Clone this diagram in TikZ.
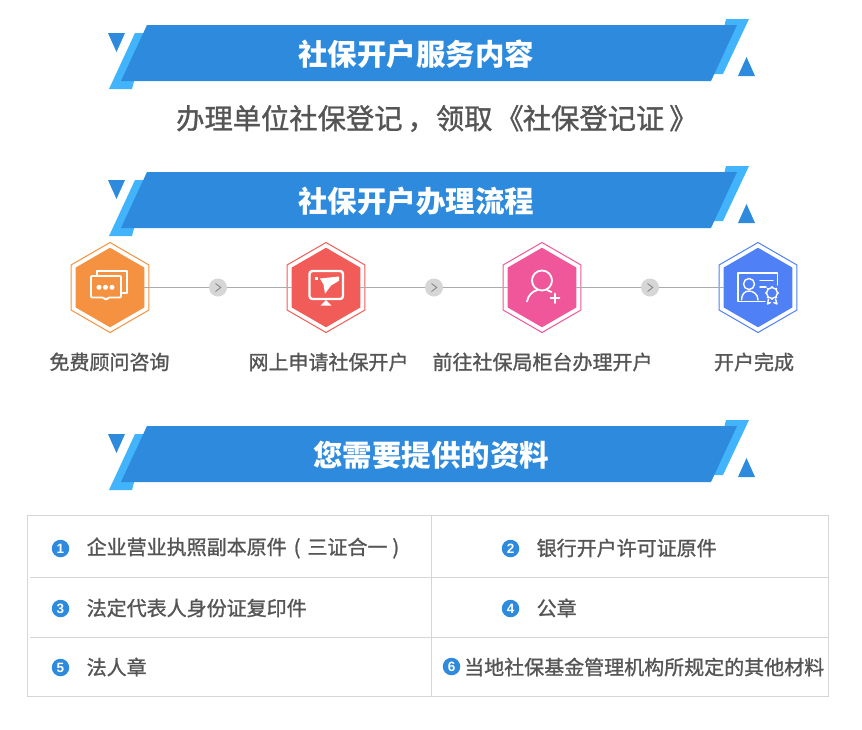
\documentclass[tikz,border=0pt]{standalone}
\usepackage{fontspec}
\setmainfont{Noto Sans CJK SC}
\newfontfamily\cjkmed[FakeBold=1.2]{Noto Sans CJK SC}
\newfontfamily\numfont{Liberation Sans}
\usetikzlibrary{shapes.geometric}
\definecolor{bandark}{HTML}{2D8ADC}
\definecolor{banlight}{HTML}{42B4FB}
\definecolor{txt}{HTML}{555555}
\definecolor{rule}{HTML}{D6D6D6}
\definecolor{hexo}{HTML}{F59241}
\definecolor{hexr}{HTML}{F25C58}
\definecolor{hexp}{HTML}{F0569A}
\definecolor{hexb}{HTML}{5080F5}
\tikzset{
  bantitle/.style={text=white,font=\bfseries\fontsize{29.5}{30}\selectfont,inner sep=0pt},
  subtitle/.style={text=txt,font=\cjkmed\fontsize{28.3}{30}\selectfont,inner sep=0pt,anchor=west},
  steplabel/.style={text=txt,font=\cjkmed\fontsize{20}{21}\selectfont,inner sep=0pt},
  celltext/.style={text=txt,font=\cjkmed\fontsize{20}{21}\selectfont,inner sep=0pt,anchor=west},
  bullet/.style={circle,fill=bandark,text=white,minimum size=17.5pt,inner sep=0pt,font=\numfont\bfseries\fontsize{13.5}{13.5}\selectfont},
  hexouter/.style={regular polygon,regular polygon sides=6,shape border rotate=30,minimum size=90pt,inner sep=0pt,outer sep=0pt,draw=#1,fill=white,line width=1pt},
  hexinner/.style={regular polygon,regular polygon sides=6,shape border rotate=30,minimum size=79.5pt,inner sep=0pt,outer sep=0pt,fill=#1},
  nextdot/.style={circle,fill=rule,minimum size=18pt,inner sep=0pt,outer sep=0pt},
  flow/.style={draw=black!33,line width=1pt},
  chev/.style={draw=black!50,line width=0.8pt},
  icon/.style={draw=white,line width=1.8pt,line join=round,line cap=round},
  iconthin/.style={draw=white,line width=1.4pt,line join=round,line cap=round},
  gridline/.style={draw=rule,line width=1pt}
}
\newcommand{\banner}[1]{%
  \begin{scope}[shift={(0,#1)}]
    \fill[banlight] (135,8)--(147,8)--(132,64)--(109,64)--cycle;
    \fill[banlight] (726,-6)--(749,-6)--(723,49)--(713,49)--cycle;
    \fill[bandark] (108,8)--(125,8)--(116.5,27)--cycle;
    \fill[bandark] (738,51)--(755,51)--(746.5,32)--cycle;
    \fill[bandark] (147,0)--(737,0)--(711,56)--(121,56)--cycle;
  \end{scope}}
\begin{document}
\begin{tikzpicture}[x=1pt,y=-1pt]
\useasboundingbox (0,0) rectangle (862,729);
\fill[white] (0,0) rectangle (862,729);

\banner{25}
\banner{172}
\banner{426}
\node[bantitle] (t1) at (416,54) {社保开户服务内容};
\node[bantitle] (t2) at (416,201) {社保开户办理流程};
\node[bantitle] (t3) at (431,455) {您需要提供的资料};
\node[subtitle] (sub) at (176,118.5) {办理单位社保登记\hspace{5pt}，领取\hspace{3pt}《\hspace{-1pt}社保登记证\hspace{5pt}》};

% hexagons
\node[hexouter=hexo] (o1) at (110,287.5) {};
\node[hexouter=hexr] (o2) at (326,287.5) {};
\node[hexouter=hexp] (o3) at (542,287.5) {};
\node[hexouter=hexb] (o4) at (758,287.5) {};
\node[hexinner=hexo] (h1) at (110,287.5) {};
\node[hexinner=hexr] (h2) at (326,287.5) {};
\node[hexinner=hexp] (h3) at (542,287.5) {};
\node[hexinner=hexb] (h4) at (758,287.5) {};

\node[nextdot] (d1) at (218,287.5) {};
\node[nextdot] (d2) at (434,287.5) {};
\node[nextdot] (d3) at (650,287.5) {};
\draw[flow] (h1) -- (d1);
\draw[flow] (d1) -- (h2);
\draw[flow] (h2) -- (d2);
\draw[flow] (d2) -- (h3);
\draw[flow] (h3) -- (d3);
\draw[flow] (d3) -- (h4);
\foreach \c in {d1,d2,d3}{
  \draw[chev] ([shift={(-2.5,-4)}]\c.center) -- ([shift={(2.8,0)}]\c.center) -- ([shift={(-2.5,4)}]\c.center);
}

% icon 1: chat
\draw[icon] (97,275)--(97,271)--(127,271)--(127,293)--(122.5,293);
\draw[icon,rounded corners=1pt] (91,276)--(121,276)--(121,297.5)--(108.5,297.5)--(106,300)--(103.5,297.5)--(91,297.5)--cycle;
\fill[white] (99,287.3) circle (2.5) (105.5,287.3) circle (2.5) (112,287.3) circle (2.5);

% icon 2: monitor
\draw[icon,line width=2.4pt,rounded corners=3pt] (309.5,271)rectangle(343,299);
\fill[white] (326,300)--(331.5,305.5)--(320.5,305.5)--cycle;
\fill[white] (315,277)rectangle(318,280);
\fill[white] (320,278.5)--(339,276.5)--(339,280.5)--(337,282)--(331,285.5)--(325,293.7)--(323.5,284.5)--cycle;

% icon 3: user plus
\draw[icon] (542,280.5) circle (10);
\draw[icon] (527,301.5) .. controls (528,295) and (533,291) .. (537.5,290);
\draw[icon] (547,290) -- (551.5,292);
\draw[icon] (555,293.5)--(555,303) (550.5,298.3)--(559.5,298.3);

% icon 4: certificate
\draw[iconthin] (765,301.5)--(738,301.5)--(738,273)--(777.5,273)--(777.5,285);
\draw[iconthin] (749,284) circle (5.5);
\draw[iconthin] (741.5,300) .. controls (741.5,294) and (745,291) .. (749,291) .. controls (753,291) and (758,294) .. (758,300);
\draw[iconthin] (760,280.5)--(773,280.5) (760,287)--(766,287);
\draw[draw=white,line width=1.4pt] (772,293) circle (5.5);
\foreach \a in {0,45,...,315}{\fill[white] (772,293)++(\a:6) circle (1.1);}
\draw[iconthin] (768.5,299)--(767.5,304)--(770.5,302.5) (775.5,299)--(777,304)--(773.8,302.5);

\node[steplabel] (l1) at (109.5,362) {免费顾问咨询};
\node[steplabel] (l2) at (328.5,362) {网上申请社保开户};
\node[steplabel] (l3) at (542.5,362) {前往社保局柜台办理开户};
\node[steplabel] (l4) at (754,362) {开户完成};

% table
\draw[gridline] (27.5,515.5) rectangle (828.5,696.5);
\draw[gridline] (431.5,515.5)--(431.5,696.5);
\draw[gridline] (30,577)--(828.5,577);
\draw[gridline] (30,637)--(828.5,637);

\node[bullet] (b1) at (60.5,548.5) {1};
\node[bullet] (b2) at (510.5,548.5) {2};
\node[bullet] (b3) at (60.5,608.5) {3};
\node[bullet] (b4) at (510.5,608.5) {4};
\node[bullet] (b5) at (60.5,667.5) {5};
\node[bullet] (b6) at (451.5,666.5) {6};
\node[celltext] (c1) at (86.5,548) {企业营业执照副本原件\hspace{7pt}(\hspace{7pt}三证合一\hspace{5pt})};
\node[celltext] (c2) at (536.5,548) {银行开户许可证原件};
\node[celltext] (c3) at (86.5,608) {法定代表人身份证复印件};
\node[celltext] (c4) at (536.5,608) {公章};
\node[celltext] (c5) at (86.5,667) {法人章};
\node[celltext] (c6) at (464,667) {当地社保基金管理机构所规定的其他材料};
\end{tikzpicture}
\end{document}
